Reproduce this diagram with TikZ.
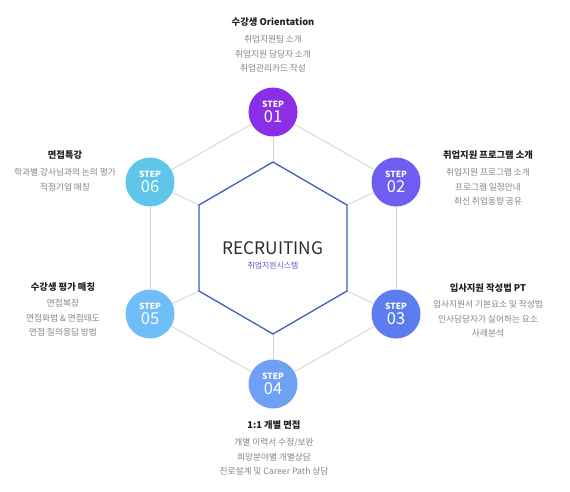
\documentclass[tikz,border=0pt]{standalone}
\usepackage{fontspec}
\setmainfont{Noto Sans CJK KR}
\definecolor{cA}{HTML}{8A2EE8}
\definecolor{cB}{HTML}{6F5CF0}
\definecolor{cC}{HTML}{5B7DF0}
\definecolor{cD}{HTML}{6EA0F5}
\definecolor{cE}{HTML}{70BEF8}
\definecolor{cF}{HTML}{5EC6E8}
\definecolor{gline}{HTML}{D2D2D2}
\definecolor{hexblue}{HTML}{3D5FC2}
\definecolor{subblue}{HTML}{5A55D0}
\definecolor{ttl}{HTML}{222222}
\definecolor{dtl}{HTML}{858585}
\tikzset{
  stepcirc/.style={circle, minimum size=49pt, inner sep=0pt},
  steplbl/.style={text=white, inner sep=0pt, font=\bfseries\fontsize{8.5}{9}\selectfont},
  stepnum/.style={text=white, inner sep=0pt, font=\fontsize{16.5}{17}\selectfont},
  conn/.style={draw=gline, line width=0.8pt},
  titletxt/.style={font=\bfseries\fontsize{9.3}{11}\selectfont, text=ttl, inner sep=0pt},
  detailtxt/.style={font=\fontsize{8.7}{14.3}\selectfont, text=dtl, align=center, inner sep=0pt, anchor=north}
}
% #1 name, #2 x, #3 y, #4 colour, #5 number
\newcommand{\stepnode}[5]{%
  \node[stepcirc, fill=#4] (#1) at (#2,#3) {};
  \node[steplbl] (#1l) at (#2,#3-7.5) {STEP};
  \node[stepnum] (#1n) at (#2,#3+4.5) {#5};
}
\begin{document}
\begin{tikzpicture}[x=1pt,y=-1pt]
\useasboundingbox[fill=white] (0,0) rectangle (570,492);
% inner hexagon vertices
\coordinate (h1) at (273,162);
\coordinate (h2) at (347,205);
\coordinate (h3) at (347,291);
\coordinate (h4) at (273,334);
\coordinate (h5) at (199,291);
\coordinate (h6) at (199,205);
% step circles
\stepnode{s1}{273}{112}{cA}{01}
\stepnode{s2}{396}{182}{cB}{02}
\stepnode{s3}{396}{314}{cC}{03}
\stepnode{s4}{273}{384}{cD}{04}
\stepnode{s5}{150}{314}{cE}{05}
\stepnode{s6}{150}{182}{cF}{06}
% outer hexagon
\draw[conn] (s1) -- (s2);
\draw[conn] (s2) -- (s3);
\draw[conn] (s3) -- (s4);
\draw[conn] (s4) -- (s5);
\draw[conn] (s5) -- (s6);
\draw[conn] (s6) -- (s1);
% spokes
\draw[conn] (s1) -- (h1);
\draw[conn] (s2) -- (h2);
\draw[conn] (s3) -- (h3);
\draw[conn] (s4) -- (h4);
\draw[conn] (s5) -- (h5);
\draw[conn] (s6) -- (h6);
% inner hexagon
\draw[hexblue, line width=1.3pt, line join=miter] (h1) -- (h2) -- (h3) -- (h4) -- (h5) -- (h6) -- cycle;
\node[font=\fontsize{17.3}{18}\selectfont, text=ttl!95, inner sep=0pt] (rec) at (273,248) {RECRUITING};
\node[font=\fontsize{7.9}{9}\selectfont, text=subblue, inner sep=0pt] (sub) at (273,266) {취업지원시스템};
% labels
\node[titletxt] (t1) at (273,22) {수강생 Orientation};
\node[detailtxt] (d1) at (273,35.5) {취업지원팀 소개\\취업지원 담당자 소개\\취업관리카드 작성};
\node[titletxt] (t2) at (488,155) {취업지원 프로그램 소개};
\node[detailtxt] (d2) at (488,168.5) {취업지원 프로그램 소개\\프로그램 일정안내\\최신 취업동향 공유};
\node[titletxt] (t3) at (488,288) {입사지원 작성법 PT};
\node[detailtxt] (d3) at (488,300.5) {입사지원서 기본요소 및 작성법\\인사담당자가 싫어하는 요소\\사례분석};
\node[titletxt] (t4) at (274,425) {1:1 개별 면접};
\node[detailtxt] (d4) at (274,438.5) {개별 이력서 수정/보완\\희망분야별 개별상담\\진로설계 및 Career Path 상담};
\node[titletxt] (t5) at (63,287) {수강생 평가 매칭};
\node[detailtxt] (d5) at (63,299.5) {면접복장\\면접화법 \& 면접태도\\면접 질의응답 방법};
\node[titletxt] (t6) at (65,155) {면접특강};
\node[detailtxt] (d6) at (65,168.5) {학과별 강사님과의 논의 평가\\적정기업 매칭};
\end{tikzpicture}
\end{document}
